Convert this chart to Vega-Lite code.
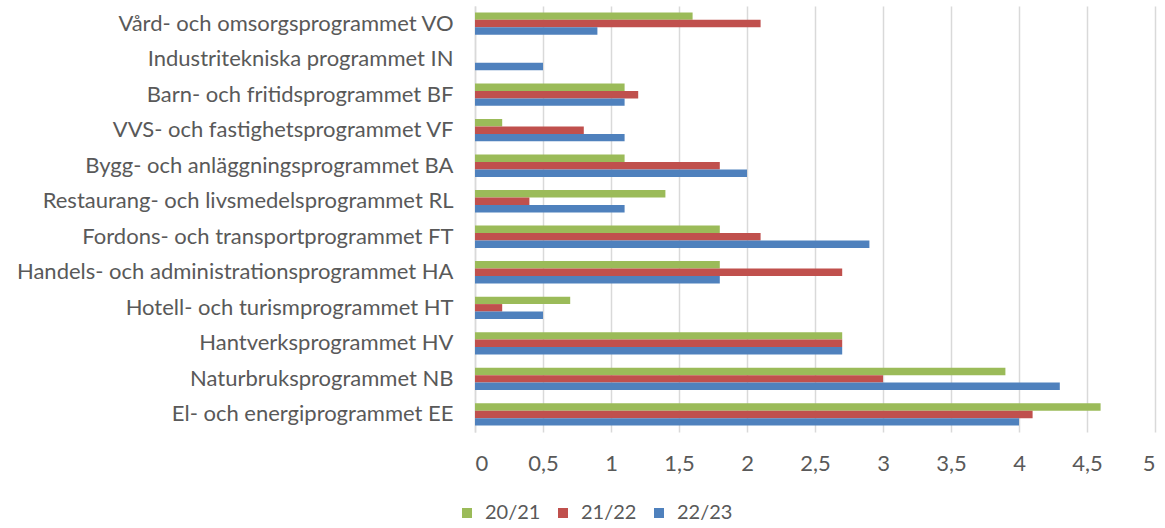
{
  "$schema": "https://vega.github.io/schema/vega-lite/v6.json",
  "autosize": {"type": "none"},
  "width": 680,
  "height": 426,
  "padding": {"left": 475, "top": 6, "right": 10, "bottom": 96},
  "background": "white",
  "config": {
    "view": {"stroke": null},
    "font": "Lato"
  },
  "data": {
    "values": [
      {"program": "Vård- och omsorgsprogrammet VO", "year": "20/21", "value": 1.6},
      {"program": "Vård- och omsorgsprogrammet VO", "year": "21/22", "value": 2.1},
      {"program": "Vård- och omsorgsprogrammet VO", "year": "22/23", "value": 0.9},
      {"program": "Industritekniska programmet IN", "year": "20/21", "value": 0},
      {"program": "Industritekniska programmet IN", "year": "21/22", "value": 0},
      {"program": "Industritekniska programmet IN", "year": "22/23", "value": 0.5},
      {"program": "Barn- och fritidsprogrammet BF", "year": "20/21", "value": 1.1},
      {"program": "Barn- och fritidsprogrammet BF", "year": "21/22", "value": 1.2},
      {"program": "Barn- och fritidsprogrammet BF", "year": "22/23", "value": 1.1},
      {"program": "VVS- och fastighetsprogrammet VF", "year": "20/21", "value": 0.2},
      {"program": "VVS- och fastighetsprogrammet VF", "year": "21/22", "value": 0.8},
      {"program": "VVS- och fastighetsprogrammet VF", "year": "22/23", "value": 1.1},
      {"program": "Bygg- och anläggningsprogrammet BA", "year": "20/21", "value": 1.1},
      {"program": "Bygg- och anläggningsprogrammet BA", "year": "21/22", "value": 1.8},
      {"program": "Bygg- och anläggningsprogrammet BA", "year": "22/23", "value": 2.0},
      {"program": "Restaurang- och livsmedelsprogrammet RL", "year": "20/21", "value": 1.4},
      {"program": "Restaurang- och livsmedelsprogrammet RL", "year": "21/22", "value": 0.4},
      {"program": "Restaurang- och livsmedelsprogrammet RL", "year": "22/23", "value": 1.1},
      {"program": "Fordons- och transportprogrammet FT", "year": "20/21", "value": 1.8},
      {"program": "Fordons- och transportprogrammet FT", "year": "21/22", "value": 2.1},
      {"program": "Fordons- och transportprogrammet FT", "year": "22/23", "value": 2.9},
      {"program": "Handels- och administrationsprogrammet HA", "year": "20/21", "value": 1.8},
      {"program": "Handels- och administrationsprogrammet HA", "year": "21/22", "value": 2.7},
      {"program": "Handels- och administrationsprogrammet HA", "year": "22/23", "value": 1.8},
      {"program": "Hotell- och turismprogrammet HT", "year": "20/21", "value": 0.7},
      {"program": "Hotell- och turismprogrammet HT", "year": "21/22", "value": 0.2},
      {"program": "Hotell- och turismprogrammet HT", "year": "22/23", "value": 0.5},
      {"program": "Hantverksprogrammet HV", "year": "20/21", "value": 2.7},
      {"program": "Hantverksprogrammet HV", "year": "21/22", "value": 2.7},
      {"program": "Hantverksprogrammet HV", "year": "22/23", "value": 2.7},
      {"program": "Naturbruksprogrammet NB", "year": "20/21", "value": 3.9},
      {"program": "Naturbruksprogrammet NB", "year": "21/22", "value": 3.0},
      {"program": "Naturbruksprogrammet NB", "year": "22/23", "value": 4.3},
      {"program": "El- och energiprogrammet EE", "year": "20/21", "value": 4.6},
      {"program": "El- och energiprogrammet EE", "year": "21/22", "value": 4.1},
      {"program": "El- och energiprogrammet EE", "year": "22/23", "value": 4.0}
    ]
  },
  "mark": {"type": "bar"},
  "encoding": {
    "y": {
      "field": "program",
      "type": "nominal",
      "sort": null,
      "scale": {"paddingInner": 0.37, "paddingOuter": 0.18},
      "axis": {
        "title": null,
        "domain": true,
        "domainColor": "#d9d9d9",
        "domainWidth": 1.5,
        "ticks": false,
        "labelFontSize": 22,
        "labelColor": "#595959",
        "labelPadding": 22,
        "labelLimit": 500,
        "labelFont": "Lato"
      }
    },
    "yOffset": {
      "field": "year",
      "type": "nominal",
      "sort": ["20/21", "21/22", "22/23"]
    },
    "x": {
      "field": "value",
      "type": "quantitative",
      "scale": {"domain": [0, 5], "nice": false},
      "axis": {
        "title": null,
        "values": [0, 0.5, 1, 1.5, 2, 2.5, 3, 3.5, 4, 4.5, 5],
        "format": ".1~f",
        "labelExpr": "replace(datum.label, '.', ',')",
        "domain": false,
        "ticks": false,
        "grid": true,
        "gridColor": "#d9d9d9",
        "gridWidth": 1.5,
        "labelFontSize": 22,
        "labelColor": "#595959",
        "labelPadding": 21,
        "labelFont": "Lato"
      }
    },
    "color": {
      "field": "year",
      "type": "nominal",
      "scale": {"domain": ["20/21", "21/22", "22/23"], "range": ["#9BBB59", "#C0504D", "#4F81BD"]},
      "legend": {
        "title": null,
        "orient": "none",
        "direction": "horizontal",
        "legendX": -18,
        "legendY": 497,
        "symbolType": "square",
        "symbolSize": 100,
        "symbolStrokeWidth": 0,
        "labelFontSize": 20,
        "labelColor": "#595959",
        "labelFont": "Lato",
        "labelOffset": 8,
        "columnPadding": 12
      }
    }
  }
}
